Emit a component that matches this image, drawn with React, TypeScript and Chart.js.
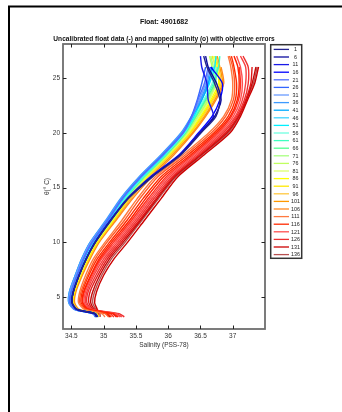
import { useEffect, useRef } from "react";
import { Chart, registerables } from "chart.js";

Chart.register(...registerables);

const TITLE = "Float: 4901682";
const SUBTITLE = "Uncalibrated float data (-) and mapped salinity (o) with objective errors";
const X_TITLE = "Salinity (PSS-78)";
const Y_TITLE = "θ(° C)";

const xTicks = [34.5, 35, 35.5, 36, 36.5, 37];
const yTicks = [5, 10, 15, 20, 25];

// potential temperature levels shared by every profile (bottom -> surface)
const thetaLevels = [3.2, 3.5, 3.9, 4.5, 5.5, 7, 8.5, 10, 12, 14, 16, 18, 20, 21.5, 23, 24.5, 26, 27];

// profile numbers shown in the legend (every fifth profile)
const legendIds = [1, 6, 11, 16, 21, 26, 31, 36, 41, 46, 51, 56, 61, 66, 71, 76, 81, 86, 91, 96, 101, 106, 111, 116, 121, 126, 131, 136];

// profiles drawn (in drawing order)
const profileIds = [1, 6, 11, 16, 21, 26, 31, 36, 41, 46, 51, 56, 61, 66, 71, 76, 81, 86, 91, 96, 101, 106, 111, 113, 116, 118, 119, 121, 123, 126, 128, 131, 133, 136];

const profileColors = ["#24248e", "#0b0b9e", "#1a1ae8", "#0000ff", "#5070ff", "#3366ff", "#6a9bff", "#3d9bff", "#00aaff", "#40d5ff", "#00f0ff", "#70ffe0", "#40ffc0", "#50ff90", "#a8ff80", "#c0ff60", "#ddff70", "#ffff00", "#ffe800", "#ffc840", "#ff9900", "#ff8820", "#ff7a40", "#ff5a28", "#ff2a00", "#ff2000", "#ff3020", "#ff5050", "#f84040", "#ee3030", "#e01818", "#cc0000", "#c40808", "#b85050"];

const sal1 = [34.90, 34.87, 34.59, 34.51, 34.53, 34.62, 34.73, 34.87, 35.11, 35.38, 35.76, 36.20, 36.51, 36.74, 36.80, 36.72, 36.60, 36.55];
const sal6 = [34.89, 34.86, 34.58, 34.51, 34.53, 34.62, 34.73, 34.87, 35.11, 35.38, 35.75, 36.19, 36.50, 36.72, 36.82, 36.75, 36.62, 36.58];
const sal11 = [34.90, 34.86, 34.58, 34.51, 34.53, 34.62, 34.73, 34.87, 35.10, 35.37, 35.74, 36.18, 36.48, 36.70, 36.62, 36.60, 36.52, 36.50];
const sal16 = [34.91, 34.87, 34.59, 34.51, 34.53, 34.62, 34.73, 34.86, 35.10, 35.37, 35.73, 36.17, 36.47, 36.68, 36.80, 36.84, 36.66, null];
const sal21 = [34.88, 34.84, 34.56, 34.48, 34.50, 34.59, 34.69, 34.82, 35.06, 35.29, 35.58, 35.92, 36.23, 36.37, 36.46, 36.56, 36.62, null];
const sal26 = [34.88, 34.84, 34.56, 34.48, 34.50, 34.59, 34.69, 34.82, 35.06, 35.29, 35.58, 35.92, 36.23, 36.36, 36.45, 36.52, 36.58, null];
const sal31 = [34.88, 34.84, 34.55, 34.47, 34.48, 34.57, 34.67, 34.80, 35.05, 35.28, 35.57, 35.91, 36.22, 36.37, 36.48, 36.58, 36.64, null];
const sal36 = [34.87, 34.83, 34.54, 34.46, 34.47, 34.56, 34.66, 34.79, 35.03, 35.26, 35.55, 35.89, 36.20, 36.36, 36.50, 36.60, 36.66, null];
const sal41 = [34.88, 34.84, 34.55, 34.46, 34.47, 34.56, 34.66, 34.79, 35.04, 35.27, 35.56, 35.90, 36.21, 36.37, 36.52, 36.62, 36.68, null];
const sal46 = [34.89, 34.85, 34.56, 34.48, 34.50, 34.59, 34.69, 34.82, 35.06, 35.30, 35.59, 35.93, 36.23, 36.38, 36.50, 36.62, 36.70, null];
const sal51 = [34.90, 34.86, 34.56, 34.48, 34.50, 34.59, 34.70, 34.83, 35.07, 35.31, 35.60, 35.94, 36.24, 36.40, 36.52, 36.64, 36.72, 36.74];
const sal56 = [34.89, 34.86, 34.57, 34.49, 34.50, 34.60, 34.70, 34.84, 35.08, 35.32, 35.61, 35.95, 36.25, 36.40, 36.55, 36.68, 36.75, null];
const sal61 = [34.90, 34.86, 34.57, 34.49, 34.51, 34.60, 34.71, 34.85, 35.09, 35.33, 35.62, 35.96, 36.26, 36.42, 36.56, 36.70, 36.78, 36.80];
const sal66 = [34.90, 34.87, 34.57, 34.49, 34.51, 34.61, 34.72, 34.85, 35.10, 35.34, 35.63, 35.97, 36.27, 36.43, 36.58, 36.72, 36.76, null];
const sal71 = [34.91, 34.87, 34.58, 34.50, 34.52, 34.62, 34.73, 34.86, 35.11, 35.35, 35.64, 35.98, 36.28, 36.44, 36.60, 36.74, 36.70, 36.66];
const sal76 = [34.91, 34.87, 34.58, 34.50, 34.53, 34.62, 34.73, 34.87, 35.12, 35.36, 35.65, 35.99, 36.29, 36.46, 36.62, 36.72, 36.68, 36.64];
const sal81 = [34.91, 34.88, 34.59, 34.51, 34.53, 34.63, 34.74, 34.88, 35.13, 35.37, 35.66, 36.00, 36.31, 36.48, 36.64, 36.74, 36.72, 36.70];
const sal86 = [34.92, 34.88, 34.59, 34.52, 34.54, 34.64, 34.75, 34.89, 35.14, 35.38, 35.67, 36.01, 36.32, 36.50, 36.66, 36.78, 36.76, 36.72];
const sal91 = [34.92, 34.88, 34.60, 34.52, 34.55, 34.64, 34.76, 34.90, 35.15, 35.39, 35.68, 36.02, 36.34, 36.52, 36.68, 36.80, 36.74, 36.68];
const sal96 = [34.92, 34.89, 34.60, 34.53, 34.55, 34.65, 34.77, 34.91, 35.16, 35.41, 35.70, 36.04, 36.35, 36.54, 36.70, 36.82, 36.78, 36.74];
const sal101 = [34.93, 34.89, 34.61, 34.54, 34.56, 34.66, 34.78, 34.92, 35.17, 35.42, 35.72, 36.06, 36.37, 36.56, 36.72, 36.84, 36.80, 36.76];
const sal106 = [34.93, 34.90, 34.62, 34.55, 34.57, 34.67, 34.79, 34.93, 35.19, 35.45, 35.75, 36.09, 36.39, 36.58, 36.74, 36.86, 36.82, null];
const sal111 = [35.02, 34.97, 34.70, 34.61, 34.63, 34.72, 34.84, 35.02, 35.28, 35.52, 35.80, 36.23, 36.63, 36.86, 36.98, 37.00, 36.97, 36.93];
const sal113 = [35.08, 35.02, 34.72, 34.63, 34.65, 34.75, 34.87, 35.05, 35.32, 35.56, 35.84, 36.27, 36.67, 36.89, 37.01, 37.03, 37.00, 36.95];
const sal116 = [35.12, 35.06, 34.74, 34.65, 34.67, 34.77, 34.90, 35.09, 35.36, 35.61, 35.89, 36.31, 36.71, 36.93, 37.04, 37.06, 37.02, 36.98];
const sal118 = [35.22, 35.15, 34.76, 34.67, 34.69, 34.80, 34.93, 35.12, 35.40, 35.65, 35.93, 36.35, 36.74, 36.96, 37.07, 37.10, 37.08, 37.02];
const sal119 = [35.16, 35.10, 34.77, 34.68, 34.70, 34.81, 34.95, 35.15, 35.43, 35.69, 35.97, 36.38, 36.77, 36.98, 37.09, 37.12, 37.10, null];
const sal121 = [35.25, 35.18, 34.78, 34.70, 34.72, 34.83, 34.97, 35.18, 35.46, 35.72, 36.00, 36.41, 36.80, 37.01, 37.12, 37.15, 37.12, 37.06];
const sal123 = [35.28, 35.20, 34.80, 34.72, 34.74, 34.85, 35.00, 35.21, 35.49, 35.75, 36.03, 36.44, 36.83, 37.04, 37.15, 37.20, 37.20, 37.12];
const sal126 = [35.32, 35.24, 34.82, 34.74, 34.76, 34.88, 35.03, 35.24, 35.52, 35.78, 36.06, 36.47, 36.86, 37.06, 37.18, 37.24, 37.24, 37.16];
const sal128 = [35.20, 35.14, 34.84, 34.77, 34.79, 34.91, 35.06, 35.27, 35.55, 35.81, 36.08, 36.49, 36.89, 37.08, 37.20, 37.28, 37.30, null];
const sal131 = [34.92, 34.92, 34.90, 34.86, 34.89, 35.00, 35.16, 35.37, 35.63, 35.89, 36.15, 36.56, 36.96, 37.12, 37.23, 37.34, 37.40, null];
const sal133 = [35.10, 35.05, 34.86, 34.80, 34.83, 34.94, 35.09, 35.30, 35.57, 35.83, 36.10, 36.51, 36.91, 37.09, 37.21, 37.30, 37.36, null];
const sal136 = [34.95, 34.94, 34.88, 34.83, 34.86, 34.97, 35.12, 35.33, 35.59, 35.85, 36.12, 36.53, 36.93, 37.10, 37.21, 37.32, 37.38, null];

const salinityProfiles = [sal1, sal6, sal11, sal16, sal21, sal26, sal31, sal36, sal41, sal46, sal51, sal56, sal61, sal66, sal71, sal76, sal81, sal86, sal91, sal96, sal101, sal106, sal111, sal113, sal116, sal118, sal119, sal121, sal123, sal126, sal128, sal131, sal133, sal136];

const FONT = '"Liberation Sans", Arial, Helvetica, sans-serif';

const decorPlugin = {
  id: "decor",
  beforeDraw(chart: any) {
    const ctx = chart.ctx;
    ctx.save();
    ctx.fillStyle = "#ffffff";
    ctx.fillRect(0, 0, chart.width, chart.height);
    ctx.restore();
  },
  afterDraw(chart: any) {
    const ctx = chart.ctx;
    const { left, right, top, bottom } = chart.chartArea;
    const xs = chart.scales.x;
    const ys = chart.scales.y;
    ctx.save();
    // axes box
    ctx.strokeStyle = "#6e6e6e";
    ctx.lineWidth = 1.8;
    ctx.strokeRect(left, top, right - left, bottom - top);
    // inward ticks
    ctx.strokeStyle = "#222222";
    ctx.lineWidth = 1;
    ctx.beginPath();
    xTicks.forEach((v) => {
      const p = Math.round(xs.getPixelForValue(v)) + 0.5;
      ctx.moveTo(p, bottom);
      ctx.lineTo(p, bottom - 3.5);
      ctx.moveTo(p, top);
      ctx.lineTo(p, top + 3.5);
    });
    yTicks.forEach((v) => {
      const p = Math.round(ys.getPixelForValue(v)) + 0.5;
      ctx.moveTo(left, p);
      ctx.lineTo(left + 3.5, p);
      ctx.moveTo(right, p);
      ctx.lineTo(right - 3.5, p);
    });
    ctx.stroke();
    // figure border
    ctx.strokeStyle = "#000000";
    ctx.lineWidth = 2;
    ctx.beginPath();
    ctx.moveTo(9, chart.height);
    ctx.lineTo(9, 6.5);
    ctx.lineTo(chart.width, 6.5);
    ctx.stroke();
    // titles
    const cx = (left + right) / 2;
    ctx.fillStyle = "#111111";
    ctx.textAlign = "center";
    ctx.textBaseline = "middle";
    ctx.font = `bold 7px ${FONT}`;
    ctx.fillText(TITLE, cx, 22.5);
    ctx.font = `bold 6.6px ${FONT}`;
    ctx.fillText(SUBTITLE, cx, 39.5);
    // legend
    const lx0 = 270.7, ly0 = 44.7, lx1 = 301.7, ly1 = 258.3;
    ctx.fillStyle = "#ffffff";
    ctx.fillRect(lx0, ly0, lx1 - lx0, ly1 - ly0);
    ctx.strokeStyle = "#333333";
    ctx.lineWidth = 1.5;
    ctx.strokeRect(lx0, ly0, lx1 - lx0, ly1 - ly0);
    ctx.font = `5.4px ${FONT}`;
    legendIds.forEach((id, i) => {
      const yy = 49.4 + i * 7.6;
      ctx.strokeStyle = profileColors[profileIds.indexOf(id)];
      ctx.lineWidth = 1.3;
      ctx.beginPath();
      ctx.moveTo(273.7, yy);
      ctx.lineTo(289, yy);
      ctx.stroke();
      ctx.fillStyle = "#222222";
      ctx.fillText(String(id), 295.4, yy + 0.3);
    });
    ctx.restore();
  },
};

export default function App() {
  const ref = useRef<HTMLCanvasElement | null>(null);
  useEffect(() => {
    if (!ref.current) return;
    const datasets = salinityProfiles.map((sal, i) => ({
      label: String(profileIds[i]),
      data: thetaLevels
        .map((t, j) => (sal[j] == null ? null : { x: sal[j] as number, y: t }))
        .filter((p) => p !== null),
      borderColor: profileColors[i],
      backgroundColor: profileColors[i],
      borderWidth: 1.4,
      pointRadius: 0,
      showLine: true,
      tension: 0.25,
      fill: false,
    }));
    const tickFont = { family: FONT, size: 6.5 };
    const chart = new Chart(ref.current, {
      type: "scatter",
      data: { datasets },
      options: {
        animation: false,
        responsive: false,
        maintainAspectRatio: false,
        events: [],
        layout: { padding: { left: 0, right: 77, top: 44, bottom: 59 } },
        plugins: { legend: { display: false }, tooltip: { enabled: false }, title: { display: false } },
        scales: {
          x: {
            type: "linear",
            min: 34.37,
            max: 37.5,
            grid: { display: false, drawTicks: false },
            border: { display: false },
            ticks: { font: tickFont, color: "#333333", padding: 3.8, maxRotation: 0, autoSkip: false, callback: (v: any) => String(v) },
            afterBuildTicks: (s: any) => { s.ticks = xTicks.map((v) => ({ value: v })); },
            afterFit: (s: any) => { s.height = 24; },
            title: { display: true, text: X_TITLE, font: { family: FONT, size: 6.5 }, color: "#333333", padding: { top: 0, bottom: 3.4 } },
          },
          y: {
            type: "linear",
            min: 2.1,
            max: 28.1,
            grid: { display: false, drawTicks: false },
            border: { display: false },
            ticks: { font: tickFont, color: "#333333", padding: 3, autoSkip: false, callback: (v: any) => String(v) },
            afterBuildTicks: (s: any) => { s.ticks = yTicks.map((v) => ({ value: v })); },
            afterFit: (s: any) => { s.width = 63; },
            title: { display: true, text: Y_TITLE, font: { family: FONT, size: 6.5 }, color: "#333333", padding: { top: 43.1, bottom: 0 } },
          },
        },
      },
      plugins: [decorPlugin],
    } as any);
    return () => chart.destroy();
  }, []);
  return (
    <div style={{ position: "fixed", left: 0, top: 0, width: 342, height: 412, background: "#ffffff" }}>
      <canvas ref={ref} width={342} height={412} style={{ display: "block", width: 342, height: 412 }} />
    </div>
  );
}
